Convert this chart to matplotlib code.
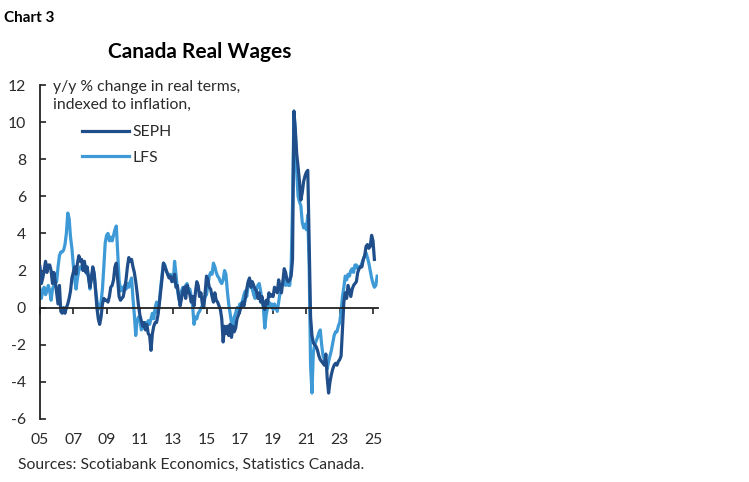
import matplotlib
matplotlib.use("Agg")
import matplotlib.pyplot as plt
import numpy as np

plt.rcParams['font.family'] = ['Lato', 'DejaVu Sans']
plt.rcParams['axes.unicode_minus'] = False

# ---- data (monthly, starting Jan 2005), y/y % change ----
start_year = 2005
seph_values = [
    2.2, 1.3, 1.6, 2.0, 2.5, 1.9, 2.3, 2.3, 2.0, 1.3, 1.9, 1.4,      # 2005
    0.8, 0.2, 1.2, -0.2, -0.3, 0.0, -0.3, 0.0, 0.2, 0.5, 0.9, 1.6,  # 2006
    1.9, 2.2, 1.8, 2.4, 2.8, 2.5, 2.6, 2.0, 2.5, 1.9, 2.2, 1.6,      # 2007
    1.1, 1.5, 2.2, 1.9, 1.0, 0.0, -0.6, -0.9, -0.5, 0.2, 0.5, 0.4,  # 2008
    0.4, 0.3, 0.6, 1.1, 1.2, 1.5, 2.2, 2.4, 1.5, 0.6, 0.4, 0.5,      # 2009
    0.6, 1.0, 1.5, 2.2, 2.7, 2.5, 2.6, 2.2, 1.9, 1.4, 0.8, 0.1,      # 2010
    -0.4, -0.7, -1.0, -0.8, -1.2, -0.9, -1.4, -1.5, -2.3, -1.4, -1.0, -0.8,  # 2011
    -0.8, -0.4, 0.2, 0.9, 1.6, 2.4, 2.2, 2.0, 1.8, 1.6, 1.7, 1.4,    # 2012
    1.5, 1.8, 1.1, 1.2, 0.6, 0.1, 0.5, 0.9, 1.1, 0.5, 1.2, 0.9,      # 2013
    0.7, 0.3, 0.6, 0.1, 0.8, 1.4, 1.2, 0.6, 0.8, 0.2, 0.0, 0.8,      # 2014
    1.7, 1.5, 1.1, 1.0, 0.6, 0.3, 0.8, 0.4, 0.3, 0.1, -0.1, -0.6,    # 2015
    -1.85, -1.0, -1.4, -1.0, -1.5, -0.9, -1.6, -1.0, -1.3, -1.1, -0.6, -0.4,  # 2016
    -0.2, 0.1, 0.3, 0.1, 0.5, 1.0, 1.4, 1.6, 1.1, 1.4, 1.2, 1.0,     # 2017
    0.9, 0.5, 0.8, 0.3, 0.6, 0.1, -0.1, 0.4, 0.2, 0.8, 0.6, 0.7,     # 2018
    0.6, 1.1, 1.0, 0.8, 1.5, 1.1, 0.8, 1.4, 2.1, 1.9, 1.5, 1.4,      # 2019
    1.5, 1.7, 2.6, 10.6, 9.6, 8.3, 7.6, 6.8, 5.8, 6.2, 6.8, 7.1,     # 2020
    7.3, 7.4, 3.5, -0.5, -1.5, -1.9, -2.0, -2.1, -2.3, -2.6, -2.8, -2.9,  # 2021
    -3.0, -3.1, -2.5, -3.8, -4.6, -4.0, -3.6, -3.3, -3.1, -3.0, -3.1, -2.9,  # 2022
    -2.8, -2.6, -1.2, 0.3, 0.8, 0.5, 1.2, 0.9, 0.6, 1.0, 1.2, 1.3,   # 2023
    1.4, 1.9, 2.1, 2.2, 2.2, 2.6, 2.8, 3.3, 3.4, 3.2, 3.3, 3.9,      # 2024
    3.6, 2.6,                                                        # 2025
]
lfs_values = [
    1.0, 0.5, 0.9, 1.1, 0.7, 0.9, 1.2, 0.9, 0.4, 1.0, 1.2, 1.3,      # 2005
    1.4, 2.2, 2.8, 3.0, 3.0, 3.1, 3.4, 4.0, 5.1, 4.8, 3.8, 3.2,      # 2006
    2.3, 1.5, 1.0, 1.6, 2.0, 2.2, 2.2, 2.1, 2.4, 2.0, 1.8, 1.7,      # 2007
    1.0, 1.8, 1.9, 1.8, 1.0, 0.4, -0.1, 0.0, 0.3, 1.0, 2.2, 3.5,     # 2008
    3.9, 4.0, 3.6, 3.8, 3.6, 3.9, 4.2, 4.4, 3.0, 1.5, 0.9, 1.1,      # 2009
    0.9, 1.2, 1.0, 1.3, 1.1, 1.4, 1.6, 0.5, -0.4, -1.5, -0.7, -0.5,  # 2010
    -0.6, -1.2, -1.0, -1.1, -0.8, -0.9, -0.7, -0.9, -0.6, -0.3, -0.6, 0.0,  # 2011
    0.3, -0.3, 0.3, 1.1, 1.8, 2.4, 2.3, 2.0, 1.8, 1.7, 1.8, 1.6,     # 2012
    1.4, 2.5, 1.8, 1.0, 0.5, 0.3, 0.9, 1.1, 0.9, 1.2, 1.3, 1.0,      # 2013
    1.0, 0.6, 0.1, -0.9, -0.5, -0.6, -0.3, -0.2, 0.0, 0.1, 0.3, 0.6, # 2014
    0.7, 1.2, 1.7, 1.9, 1.8, 2.4, 2.2, 1.9, 1.7, 1.6, 1.4, 1.3,      # 2015
    1.5, 2.0, 1.8, 0.9, 0.2, -0.3, -0.8, -1.1, -0.5, -0.3, 0.0, -0.2,  # 2016
    0.2, 0.1, 0.4, 0.7, 0.9, 0.6, 1.2, 1.5, 1.2, 1.0, 0.7, 0.5,      # 2017
    1.0, 1.2, 1.3, 0.9, 0.4, 0.0, -1.1, -0.4, 0.0, 0.3, 0.1, 0.2,    # 2018
    -0.1, 0.2, 0.0, -0.2, 0.3, 0.8, 1.1, 1.3, 1.6, 1.2, 1.4, 1.2,    # 2019
    1.2, 2.2, 5.5, 10.5, 9.5, 7.3, 6.0, 5.7, 5.5, 4.6, 4.3, 4.5,     # 2020
    4.2, 5.0, 2.2, -3.1, -4.6, -2.4, -2.0, -1.8, -1.6, -1.35, -1.2, -2.0,  # 2021
    -2.6, -2.8, -3.0, -3.3, -2.9, -2.6, -2.3, -1.9, -1.5, -1.3, -1.3, -1.0,  # 2022
    -0.8, -0.2, 0.6, 1.1, 1.7, 1.5, 1.8, 1.7, 2.0, 2.1, 1.9, 2.3,    # 2023
    2.3, 2.1, 2.2, 2.2, 2.4, 2.6, 2.8, 2.95, 2.7, 2.4, 2.0, 1.6,     # 2024
    1.3, 1.1, 1.2, 1.7,                                              # 2025
]
series_names = ["SEPH", "LFS"]
series_colors = ["#1f4e8a", "#3d9ad6"]
y_ticks = [-6, -4, -2, 0, 2, 4, 6, 8, 10, 12]
x_tick_years = list(range(2005, 2026, 2))
x_tick_labels = ["05", "07", "09", "11", "13", "15", "17", "19", "21", "23", "25"]

seph_x = start_year + np.arange(len(seph_values)) / 12.0
lfs_x = start_year + np.arange(len(lfs_values)) / 12.0

W, H = 749, 482
FS = 11.3
TXT = '#2a2a2a'
fig = plt.figure(figsize=(W / 100, H / 100), dpi=100)
ax = fig.add_axes([40 / W, 1 - 419 / H, (378 - 40) / W, (419 - 85) / H])

ax.plot(seph_x, seph_values, color=series_colors[0], lw=2.3, label=series_names[0],
        solid_joinstyle='round', zorder=3)
ax.plot(lfs_x, lfs_values, color=series_colors[1], lw=2.3, label=series_names[1],
        solid_joinstyle='round', zorder=2)

ax.set_xlim(2005.0, 2025.3)
ax.set_ylim(-6, 12)

for s in ['top', 'right']:
    ax.spines[s].set_visible(False)
ax.spines['left'].set_color('#222222')
ax.spines['left'].set_linewidth(1.3)
ax.spines['bottom'].set_position(('data', 0))
ax.spines['bottom'].set_color('#222222')
ax.spines['bottom'].set_linewidth(1.3)
ax.spines['bottom'].set_zorder(4)

ax.set_yticks(y_ticks)
ax.set_yticklabels([str(v) for v in y_ticks])
ax.tick_params(axis='y', direction='in', length=4, width=1.2, color='#222222',
               labelsize=FS, labelcolor=TXT, pad=10)
ax.set_xticks(x_tick_years)
ax.tick_params(axis='x', direction='out', length=4, width=1.2, color='#222222',
               labelbottom=False)

sec = ax.secondary_xaxis('bottom')
sec.set_xticks(x_tick_years)
sec.set_xticklabels(x_tick_labels)
sec.spines['bottom'].set_visible(False)
sec.tick_params(axis='x', length=0, labelsize=FS, labelcolor=TXT, pad=10)

fig.text(4 / W, 1 - 18 / H, "Chart 3", fontsize=11, fontweight='bold',
         ha='left', va='center', color='#000000')
fig.text(200 / W, 1 - 52 / H, "Canada Real Wages", fontsize=15, fontweight='bold',
         ha='center', va='center', color='#000000')
fig.text(53 / W, 1 - 96 / H, "y/y % change in real terms,\nindexed to inflation,",
         fontsize=FS, ha='left', va='center', color=TXT, linespacing=1.3)
fig.text(18 / W, 1 - 465 / H, "Sources: Scotiabank Economics, Statistics Canada.",
         fontsize=FS, ha='left', va='center', color=TXT)

ax.legend(loc='upper left', bbox_to_anchor=(68 / W, 1 - 111 / H),
          bbox_transform=fig.transFigure, frameon=False, fontsize=FS,
          handlelength=3.0, handletextpad=0.2, labelspacing=0.75,
          labelcolor=TXT)

fig.savefig("out.png", dpi=100)
